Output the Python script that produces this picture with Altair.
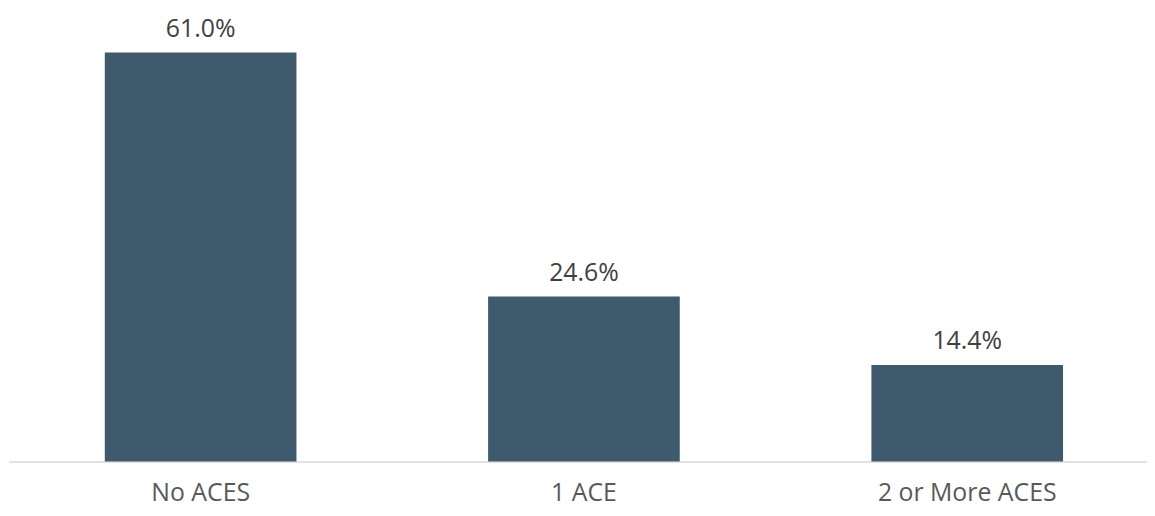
import altair as alt
import pandas as pd

categories = ["No ACES", "1 ACE", "2 or More ACES"]
values = [61.0, 24.6, 14.4]
labels = ["61.0%", "24.6%", "14.4%"]

df = pd.DataFrame({"category": categories, "value": values, "label": labels})

FONT = "Open Sans"

x = alt.X(
    "category:N",
    sort=categories,
    scale=alt.Scale(paddingInner=0.5, paddingOuter=0.2345, align=0.533),
    axis=alt.Axis(
        title=None,
        labelAngle=0,
        labelFont=FONT,
        labelFontSize=25,
        labelColor="#595959",
        labelPadding=39,
        labelBaseline="alphabetic",
        ticks=False,
        tickSize=0,
        domainColor="#d9d9d9",
        domainWidth=1.5,
        grid=False,
    ),
)
y = alt.Y(
    "value:Q",
    scale=alt.Scale(domain=[0, 67.37], nice=False),
    axis=None,
)

bars = alt.Chart(df).mark_bar(color="#3e5a6c").encode(x=x, y=y)
text = alt.Chart(df).mark_text(
    font=FONT, fontSize=25, color="#404040", baseline="alphabetic", dy=-16
).encode(x=x, y=y, text="label:N")

chart = (
    alt.layer(bars, text)
    .properties(
        width=1146,
        height=455,
        padding={"left": 1, "right": 0, "top": 0, "bottom": 45},
        autosize=alt.AutoSizeParams(type="none"),
        view=alt.ViewBackground(strokeWidth=0, strokeOpacity=0),
    )
    .configure_view(strokeWidth=0, strokeOpacity=0)
)

chart.save("out.html", embed_options={"renderer": "svg", "actions": False})
